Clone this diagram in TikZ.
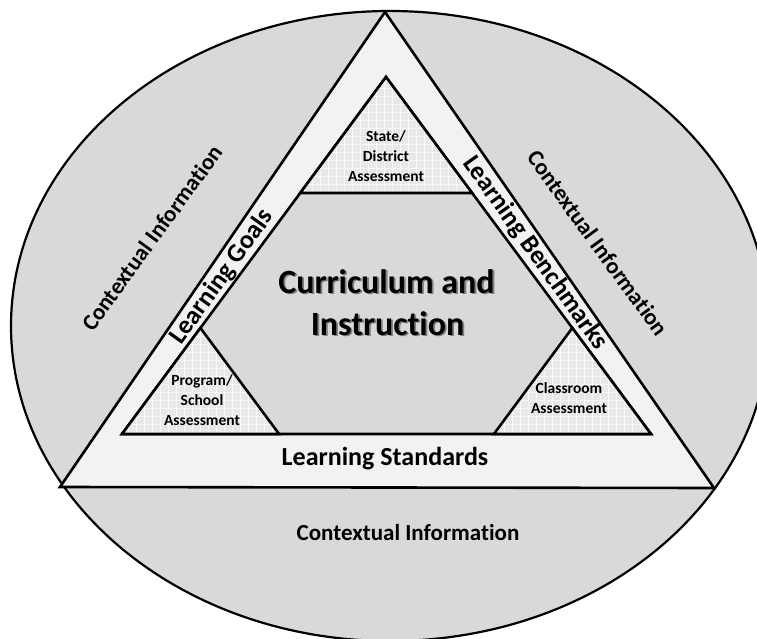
\documentclass[tikz,border=0pt]{standalone}
\usepackage{fontspec}
\setmainfont{Carlito}[Ligatures=NoCommon]
\usetikzlibrary{calc}
\definecolor{ellgray}{HTML}{D9D9D9}
\definecolor{bandgray}{HTML}{F2F2F2}
\definecolor{coregray}{HTML}{D9D9D9}
\definecolor{patgray}{HTML}{E8E8E8}
\definecolor{patline}{HTML}{F7F7F7}
\begin{document}
\begin{tikzpicture}[x=1pt,y=-1pt,
  edge/.style={draw=black,line width=2.6pt,line join=miter},
  rim/.style={draw=black,line width=2.2pt},
  lbl/.style={inner sep=0pt,font=\bfseries\fontsize{23}{28}\selectfont},
  bandlbl/.style={inner sep=0pt,font=\bfseries\fontsize{26}{31}\selectfont},
  corelbl/.style={inner sep=0pt,anchor=base,font=\bfseries\fontsize{34}{41}\selectfont},
  smalllbl/.style={inner sep=0pt,anchor=base,font=\bfseries\fontsize{15.5}{20}\selectfont}]
\useasboundingbox (0,0) rectangle (757,639);
\clip (0,0) rectangle (757,639);

% surrounding context
\filldraw[fill=ellgray,rim] (390,326) ellipse [x radius=379, y radius=315];

% outer triangle (band)
\coordinate (OT) at (385,12);
\coordinate (OL) at (60,487);
\coordinate (OR) at (714,488);
\filldraw[fill=bandgray,edge] (OT) -- (OL) -- (OR) -- cycle;

% inner triangle (core)
\coordinate (IT) at (386,77);
\coordinate (IL) at (122,434);
\coordinate (IR) at (651,434);
\filldraw[fill=coregray,edge] (IT) -- (IL) -- (IR) -- cycle;

% corner triangles
\coordinate (TL) at ($(IT)!0.325!(IL)$);
\coordinate (TR) at ($(IT)!0.325!(IR)$);
\coordinate (PA) at ($(IL)!0.297!(IT)$);
\coordinate (PB) at ($(IL)!0.297!(IR)$);
\coordinate (CA) at ($(IR)!0.297!(IT)$);
\coordinate (CB) at ($(IR)!0.297!(IL)$);

\foreach \a/\b/\c in {IT/TL/TR, IL/PA/PB, IR/CA/CB}{
  \begin{scope}
    \clip (\a) -- (\b) -- (\c) -- cycle;
    \fill[patgray] (0,0) rectangle (757,639);
    \draw[patline,line width=0.8pt,step=8pt] (0,0) grid (757,639);
  \end{scope}
  \draw[edge] (\a) -- (\b) -- (\c) -- cycle;
}

% labels in the context ring
\node[lbl,rotate=54] (ctxl) at (152,238) {Contextual Information};
\node[lbl,rotate=-54] (ctxr) at (598,243) {Contextual Information};
\node[lbl,anchor=base] (ctxb) at (408,540) {Contextual Information};

% labels in the band
\node[bandlbl,rotate=54.5] (goals) at (222,277) {Learning Goals};
\node[bandlbl,rotate=-54.5] (bench) at (535,253) {Learning Benchmarks};
\node[bandlbl,anchor=base] (stds) at (385,465) {Learning Standards};

% core title with drop shadow
\node[corelbl,text=black!50] (cis1) at (388.3,294.8) {Curriculum and};
\node[corelbl,text=black!50] (cis2) at (389.3,336.8) {Instruction};
\node[corelbl] (ci1) at (386.5,293) {Curriculum and};
\node[corelbl] (ci2) at (387.5,335) {Instruction};

% assessment labels
\node[smalllbl] (sd1) at (386,142) {State/};
\node[smalllbl] (sd2) at (386,161.5) {District};
\node[smalllbl] (sd3) at (386,181.5) {Assessment};

\node[smalllbl] (ps1) at (202,385) {Program/};
\node[smalllbl] (ps2) at (202,405) {School};
\node[smalllbl] (ps3) at (202,425) {Assessment};

\node[smalllbl] (cl1) at (569,393) {Classroom};
\node[smalllbl] (cl2) at (569,413) {Assessment};
\end{tikzpicture}
\end{document}
